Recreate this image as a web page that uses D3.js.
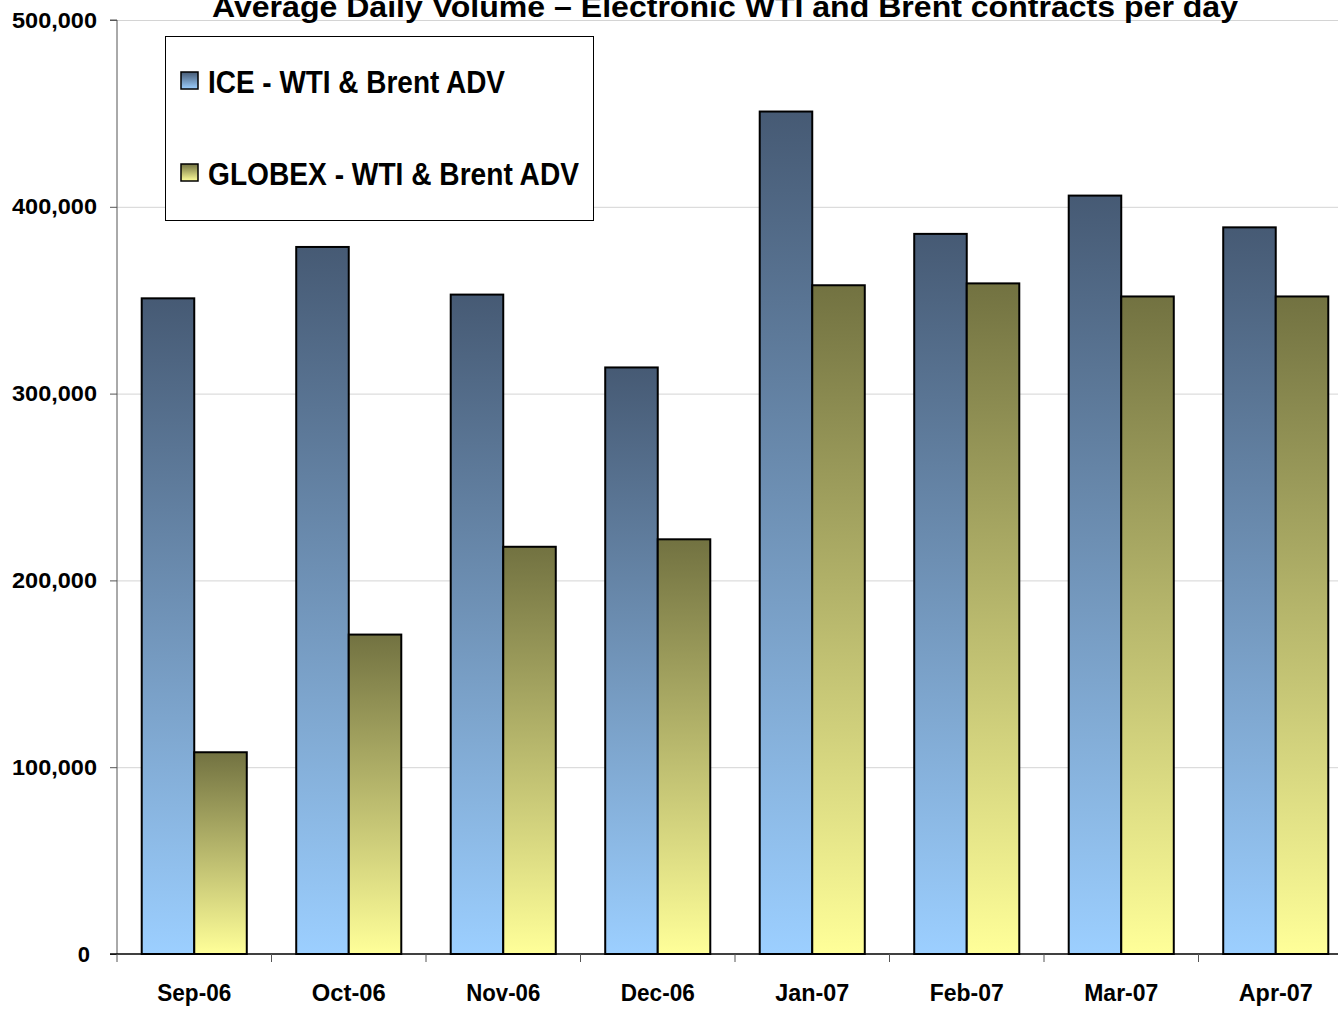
<!DOCTYPE html>
<html>
<head>
<meta charset="utf-8">
<script src="https://cdn.jsdelivr.net/npm/d3@7"></script>
<style>
    body { margin: 0; background: #fff; }
    svg { display: block; font-family: "Liberation Sans", Arial, sans-serif; }
    .tick-label { font-weight: bold; fill: #000; }
</style>
</head>
<body>
<svg></svg>
<script>
// Data
let months = ['Sep-06', 'Oct-06', 'Nov-06', 'Dec-06', 'Jan-07', 'Feb-07', 'Mar-07', 'Apr-07']
let seriesNames = ['ICE - WTI & Brent ADV', 'GLOBEX - WTI & Brent ADV']
let iceValues = [351000, 378500, 353000, 314000, 451000, 385500, 406000, 389000]
let globexValues = [108000, 171000, 218000, 222000, 358000, 359000, 352000, 352000]
let yTicks = [0, 100000, 200000, 300000, 400000, 500000]

let dataset = months.map((m, i) => ({ month: m, values: [iceValues[i], globexValues[i]] }))

// Dimensions
let width = 1338
let height = 1010
let plot = { left: 117, right: 1353, top: 20, bottom: 954 }

let svg = d3.select('svg')
    .attr('width', width)
    .attr('height', height)

// Gradients
let defs = svg.append('defs')
let gradColors = [['#465a74', '#9ccfff'], ['#727241', '#ffff99']]
gradColors.forEach((c, i) => {
    let g = defs.append('linearGradient')
        .attr('id', 'grad' + i)
        .attr('x1', 0).attr('y1', 0).attr('x2', 0).attr('y2', 1)
    g.append('stop').attr('offset', '0%').attr('stop-color', c[0])
    g.append('stop').attr('offset', '100%').attr('stop-color', c[1])
})

// Scales
let scale = {
    x0: d3.scaleBand().domain(months).range([plot.left, plot.right]).paddingInner(0.32).paddingOuter(0.16),
    y: d3.scaleLinear().domain([0, 500000]).range([plot.bottom, plot.top])
}
scale.x1 = d3.scaleBand().domain([0, 1]).range([0, scale.x0.bandwidth()])

// Gridlines
svg.append('g')
    .attr('transform', `translate(${plot.left},0)`)
    .call(d3.axisLeft(scale.y).tickValues(yTicks.slice(1)).tickFormat('').tickSize(-(width - plot.left)))
    .call(g => g.select('.domain').remove())
    .call(g => g.selectAll('line').attr('stroke', '#d4d4d4').attr('stroke-width', 1))

// Bars
let groups = svg.selectAll('.group')
    .data(dataset)
    .enter()
    .append('g')
    .attr('class', 'group')
    .attr('transform', d => `translate(${scale.x0(d.month)},0)`)

groups.selectAll('rect')
    .data(d => d.values.map((v, i) => ({ v: v, i: i })))
    .enter()
    .append('rect')
    .attr('x', d => scale.x1(d.i))
    .attr('y', d => scale.y(d.v))
    .attr('width', scale.x1.bandwidth())
    .attr('height', d => scale.y(0) - scale.y(d.v))
    .attr('fill', d => `url(#grad${d.i})`)
    .attr('stroke', '#000')
    .attr('stroke-width', 2)

// Y axis
let yAxis = svg.append('g')
    .attr('transform', `translate(${plot.left},0)`)
    .call(d3.axisLeft(scale.y).tickValues(yTicks).tickFormat(d3.format(',')).tickSize(7).tickPadding(20))
yAxis.select('.domain').attr('stroke', '#555').attr('d', `M-7,${plot.top}H0V${plot.bottom}`)
yAxis.selectAll('line').attr('stroke', '#555')
yAxis.selectAll('.tick text')
    .attr('class', 'tick-label')
    .style('font-size', '22px')
yAxis.selectAll('.tick text')
    .filter(d => d !== 0)
    .attr('text-anchor', 'start')
    .attr('x', -105)
    .attr('textLength', 85)
    .attr('lengthAdjust', 'spacingAndGlyphs')

// X axis
let xAxis = svg.append('g')
    .attr('transform', `translate(0,${plot.bottom})`)
xAxis.append('line')
    .attr('x1', plot.left - 7).attr('x2', width)
    .attr('stroke', '#000').attr('stroke-width', 1.5)
let step = scale.x0.step()
let boundaries = months.map(m => scale.x0(m) - step * 0.16)
xAxis.selectAll('.xtick')
    .data(boundaries)
    .enter()
    .append('line')
    .attr('x1', d => d).attr('x2', d => d)
    .attr('y1', 0).attr('y2', 8)
    .attr('stroke', '#555')

xAxis.call(d3.axisBottom(scale.x0).tickSize(0).tickPadding(31))
    .call(g => g.select('.domain').remove())
    .call(g => g.selectAll('.tick text')
        .attr('class', 'tick-label')
        .style('font-size', '23px')
        .attr('textLength', 74)
        .attr('lengthAdjust', 'spacingAndGlyphs'))

// Title
svg.append('text')
    .attr('x', 725)
    .attr('y', 17)
    .attr('text-anchor', 'middle')
    .attr('class', 'tick-label')
    .style('font-size', '30px')
    .attr('textLength', 1026)
    .attr('lengthAdjust', 'spacingAndGlyphs')
    .text('Average Daily Volume – Electronic WTI and Brent contracts per day')

// Legend
let legend = svg.append('g')
legend.append('rect')
    .attr('x', 165.5).attr('y', 36.5)
    .attr('width', 428).attr('height', 184)
    .attr('fill', '#fff')
    .attr('stroke', '#000')
    .attr('stroke-width', 1)

let legendRows = [{ y: 93, len: 297 }, { y: 185, len: 371 }]
seriesNames.forEach((name, i) => {
    legend.append('rect')
        .attr('x', 181).attr('y', legendRows[i].y - 21)
        .attr('width', 17).attr('height', 17)
        .attr('fill', `url(#grad${i})`)
        .attr('stroke', '#000')
        .attr('stroke-width', 1.5)
    legend.append('text')
        .attr('x', 208)
        .attr('y', legendRows[i].y)
        .attr('class', 'tick-label')
        .style('font-size', '32px')
        .attr('textLength', legendRows[i].len)
        .attr('lengthAdjust', 'spacingAndGlyphs')
        .text(name)
})
</script>
</body>
</html>
